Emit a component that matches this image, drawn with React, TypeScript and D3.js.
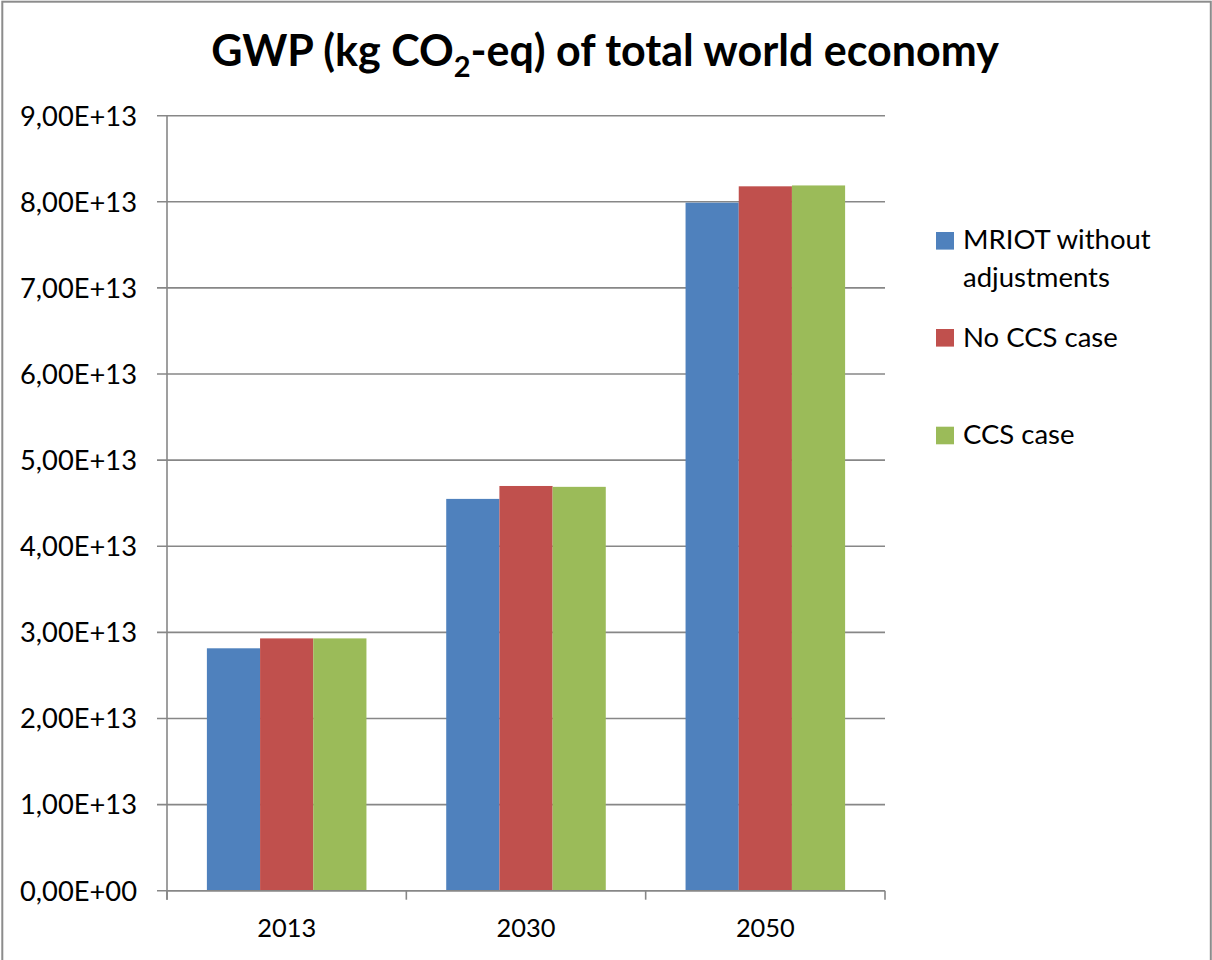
import React from "react";
import * as d3 from "d3";

// Chart data
const categories = ["2013", "2030", "2050"];
const seriesNames = ["MRIOT without adjustments", "No CCS case", "CCS case"];
const mriotWithoutAdjustments = [2.815e13, 4.55e13, 7.99e13];
const noCcsCase = [2.93e13, 4.70e13, 8.18e13];
const ccsCase = [2.93e13, 4.69e13, 8.19e13];
const yTicks = [0, 1e13, 2e13, 3e13, 4e13, 5e13, 6e13, 7e13, 8e13, 9e13];
const legendLines = [["MRIOT without", "adjustments"], ["No CCS case"], ["CCS case"]];

const seriesValues = [mriotWithoutAdjustments, noCcsCase, ccsCase];
const colors = ["#4F81BD", "#C0504D", "#9BBB59"];

const W = 1212;
const H = 960;
const plot = { left: 167, right: 885, top: 115.7, bottom: 890.7 };
const FONT = "Lato, 'Open Sans', sans-serif";
const GRID = "#878787";

// Excel-style scientific label: 9,00E+13
function sci(v: number): string {
  const [m, e] = v.toExponential(2).split("e");
  const sign = e.startsWith("-") ? "-" : "+";
  const digits = e.replace(/[+-]/, "").padStart(2, "0");
  return `${m.replace(".", ",")}E${sign}${digits}`;
}

export default function App() {
  const y = d3.scaleLinear().domain([0, 9e13]).range([plot.bottom, plot.top]);
  const x0 = d3.scaleBand<string>().domain(categories).range([plot.left, plot.right]).padding(0);
  const bw = x0.bandwidth();
  const gapRatio = 1.5;
  const barW = bw / (seriesNames.length + gapRatio);
  const x1 = d3
    .scaleBand<number>()
    .domain(d3.range(seriesNames.length))
    .range([barW * gapRatio / 2, bw - barW * gapRatio / 2])
    .padding(0);

  const boundaries = [...categories.map((c) => x0(c) as number), plot.right];

  const legendItems = [
    { sq: 232, base: [249.3, 287.3] },
    { sq: 329, base: [346.7] },
    { sq: 426.7, base: [444.3] },
  ];

  return (
    <svg
      width={W}
      height={H}
      style={{ position: "absolute", left: 0, top: 0, background: "#fff" }}
      fontFamily={FONT}
    >
      <rect x={0} y={0} width={W} height={H} fill="#fff" />
      <rect x={2.3} y={1.7} width={1208.5} height={H + 20} fill="none" stroke="#8c8c8c" strokeWidth={2} />

      {/* Title */}
      <text x={605} y={66} textAnchor="middle" fontSize={43} fontWeight={700} fill="#000">
        GWP (kg CO
        <tspan fontSize={29} dy={11}>2</tspan>
        <tspan dy={-11}>-eq) of total world economy</tspan>
      </text>

      {/* Horizontal gridlines and y-axis ticks */}
      {yTicks.map((t) => (
        <g key={t}>
          <line x1={plot.left - 10} x2={plot.right} y1={y(t)} y2={y(t)} stroke={GRID} strokeWidth={1.6} />
          <text x={137} y={y(t)} dy="0.36em" textAnchor="end" fontSize={27.3} fill="#000">
            {sci(t)}
          </text>
        </g>
      ))}

      {/* Bars */}
      {categories.map((c, ci) => (
        <g key={c} transform={`translate(${x0(c)},0)`}>
          {seriesValues.map((vals, si) => (
            <rect
              key={si}
              x={x1(si)}
              y={y(vals[ci])}
              width={x1.bandwidth()}
              height={y(0) - y(vals[ci])}
              fill={colors[si]}
            />
          ))}
        </g>
      ))}

      {/* Axes */}
      <line x1={plot.left} x2={plot.left} y1={plot.top} y2={plot.bottom + 9} stroke={GRID} strokeWidth={1.6} />
      <line x1={plot.left} x2={plot.right} y1={plot.bottom} y2={plot.bottom} stroke={GRID} strokeWidth={1.6} />
      {boundaries.map((bx, i) => (
        <line key={i} x1={bx} x2={bx} y1={plot.bottom} y2={plot.bottom + 9} stroke={GRID} strokeWidth={1.6} />
      ))}
      {categories.map((c) => (
        <text key={c} x={(x0(c) as number) + bw / 2} y={936.7} textAnchor="middle" fontSize={25.4} fill="#000">
          {c}
        </text>
      ))}

      {/* Legend */}
      {legendItems.map((it, i) => (
        <g key={i}>
          <rect x={936} y={it.sq} width={18} height={17.6} fill={colors[i]} />
          {legendLines[i].map((ln, li) => (
            <text key={li} x={963} y={it.base[li]} fontSize={27.5} fill="#000">
              {ln}
            </text>
          ))}
        </g>
      ))}
    </svg>
  );
}
